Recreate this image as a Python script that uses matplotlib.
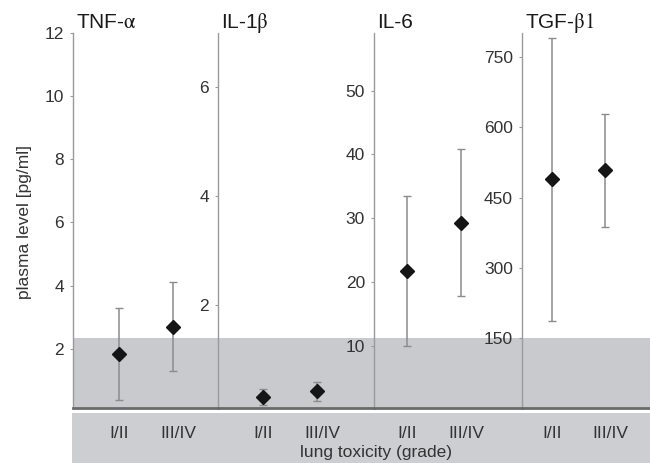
import matplotlib
matplotlib.use("Agg")
import matplotlib.pyplot as plt
from matplotlib.patches import Rectangle
from matplotlib.transforms import ScaledTranslation

plt.rcParams['font.family'] = ['Liberation Sans', 'DejaVu Sans']
plt.rcParams['mathtext.fontset'] = 'stix'

# ---- data ----
panels = ["TNF-$\\mathrm{\\alpha}$", "IL-1$\\mathrm{\\beta}$", "IL-6", "TGF-$\\mathrm{\\beta 1}$"]
grades = ["I/II", "III/IV"]
means = [[1.83, 2.69], [0.30, 0.41], [21.8, 29.3], [489, 508]]
upper = [[3.30, 4.10], [0.45, 0.58], [33.5, 40.8], [791, 629]]
lower = [[0.37, 1.28], [0.16, 0.23], [10.0, 17.9], [185, 387]]
yticks = [[2, 4, 6, 8, 10, 12], [2, 4, 6], [10, 20, 30, 40, 50], [150, 300, 450, 600, 750]]
ylims = [(0.12, 12.0), (0.10, 7.0), (0.35, 59.0), (0.0, 802.0)]
ylabel = "plasma level [pg/ml]"
xlabel = "lung toxicity (grade)"

# ---- layout (pixels of a 650x463 canvas) ----
W, H = 650, 463
top_px, bot_px = 33, 408
edges_px = [73, 218, 374, 522, 650]
pts_px = [(119, 173), (263, 317), (407, 461), (552, 605)]
band_px = 338

fig = plt.figure(figsize=(W / 100, H / 100), dpi=100)

# lower grey strip (behind everything)
strip = fig.add_axes([72 / W, 0, 1 - 72 / W, (H - 413) / H], zorder=-5)
strip.set_facecolor("#cdced1")
strip.set_xticks([])
strip.set_yticks([])
for s in strip.spines.values():
    s.set_visible(False)

band_frac = (bot_px - band_px) / (bot_px - top_px)
for i in range(4):
    l, r = edges_px[i], edges_px[i + 1]
    ax = fig.add_axes([l / W, 1 - bot_px / H, (r - l) / W, (bot_px - top_px) / H])
    ax.patch.set_alpha(0)
    p1, p2 = pts_px[i]
    scale = p2 - p1
    ax.set_xlim(1 - (p1 - l) / scale, 2 + (r - p2) / scale)
    ax.set_ylim(*ylims[i])
    ax.add_patch(Rectangle((0, 0), 1, band_frac, transform=ax.transAxes,
                           facecolor="#c9cacd", edgecolor="none", zorder=0))
    x = [1, 2]
    m = means[i]
    yerr = [[m[k] - lower[i][k] for k in range(2)], [upper[i][k] - m[k] for k in range(2)]]
    ax.errorbar(x, m, yerr=yerr, fmt="none", ecolor="#8c8c8c", elinewidth=1.1,
                capsize=3, capthick=1.0, zorder=2)
    ax.plot(x, m, linestyle="none", marker="D", markersize=6.8, color="#151515", zorder=3)
    for s in ("top", "right"):
        ax.spines[s].set_visible(False)
    ax.spines["left"].set_color("#9a9a9a")
    ax.spines["left"].set_linewidth(1.0)
    ax.spines["bottom"].set_color("#6a6a6a")
    ax.spines["bottom"].set_linewidth(2.0)
    ax.set_yticks(yticks[i])
    ax.set_yticklabels([str(t) for t in yticks[i]])
    ax.tick_params(axis="y", length=2.5, width=0.8, color="#9a9a9a", pad=4,
                   labelsize=12.5, labelcolor="#333333")
    ax.set_xticks(x)
    ax.set_xticklabels(grades)
    ax.tick_params(axis="x", length=0, pad=13, labelsize=12.5, labelcolor="#333333")
    lab = ax.get_xticklabels()[1]
    lab.set_transform(lab.get_transform() + ScaledTranslation(5 / 100, 0, fig.dpi_scale_trans))
    ax.annotate(panels[i], xy=(0, 1), xycoords="axes fraction", xytext=(2, 3.5),
                textcoords="offset points", ha="left", va="baseline",
                fontsize=15, color="#1a1a1a")

fig.text(24 / W, 1 - 222 / H, ylabel, rotation=90, ha="center", va="center",
         fontsize=12.5, color="#333333")
fig.text(376 / W, 1 - 452 / H, xlabel, ha="center", va="center",
         fontsize=12.5, color="#333333")

fig.savefig("out.png", dpi=100)
